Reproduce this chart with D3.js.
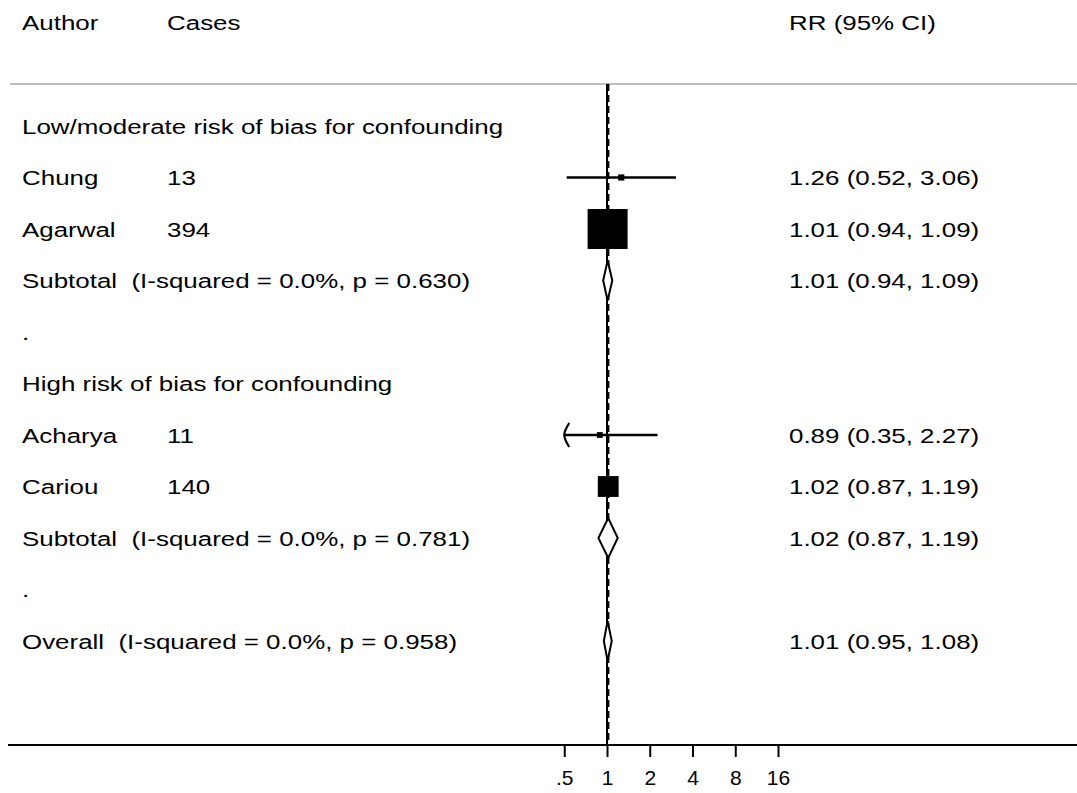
<!DOCTYPE html>
<html>
<head>
<meta charset="utf-8">
<script src="https://cdn.jsdelivr.net/npm/d3@7/dist/d3.min.js"></script>
<style>
  html, body { margin: 0; padding: 0; background: #fff; }
  svg { display: block; }
  text { font-family: "Liberation Sans", Arial, Helvetica, sans-serif; fill: #000; white-space: pre; }
</style>
</head>
<body>
<svg id="chart" width="1077" height="793"></svg>
<script>
// Forest plot rows, top to bottom
const rowLabels = [
  "Low/moderate risk of bias for confounding",
  "Chung",
  "Agarwal",
  "Subtotal  (I-squared = 0.0%, p = 0.630)",
  ".",
  "High risk of bias for confounding",
  "Acharya",
  "Cariou",
  "Subtotal  (I-squared = 0.0%, p = 0.781)",
  ".",
  "Overall  (I-squared = 0.0%, p = 0.958)"
];
const rowTypes = ["group", "study", "study", "pooled", "blank", "group", "study", "study", "pooled", "blank", "pooled"];
const cases    = ["", "13", "394", "", "", "", "11", "140", "", "", ""];
const rr       = [null, 1.26, 1.01, 1.01, null, null, 0.89, 1.02, 1.02, null, 1.01];
const ciLow    = [null, 0.52, 0.94, 0.94, null, null, 0.35, 0.87, 0.87, null, 0.95];
const ciHigh   = [null, 3.06, 1.09, 1.09, null, null, 2.27, 1.19, 1.19, null, 1.08];
const weights  = [null, 1.8, 76.0, null, null, null, 1.6, 20.6, null, null, null];

const tickValues = [0.5, 1, 2, 4, 8, 16];
const tickLabels = [".5", "1", "2", "4", "8", "16"];
const overallRR = rr[rr.length - 1];

const svg = d3.select("#chart");
const W = 1077;
const fontSize = 21;
const stretch = 1.235; // table text is drawn horizontally widened

const x = d3.scaleLog().domain([0.5, 16]).range([564.25, 778]);
const y = d3.scaleLinear().domain([0, rowLabels.length - 1]).range([126, 641]);
const boxSide = d3.scaleSqrt().domain([0, 76]).range([0, 40]);

const topY = 84, axisY = 745;
const fmt = d3.format(".2f");

function tableText(g, tx, ty, str) {
  g.append("text")
    .attr("transform", `translate(${tx},${ty}) scale(${stretch},1)`)
    .attr("font-size", fontSize)
    .text(str);
}

// Header row
const header = svg.append("g");
tableText(header, 22, 29.5, "Author");
tableText(header, 167, 29.5, "Cases");
tableText(header, 789, 29.5, "RR (95% CI)");

// Separator under header
svg.append("line")
  .attr("x1", 10).attr("x2", W).attr("y1", topY).attr("y2", topY)
  .attr("stroke", "#bdbdbd").attr("stroke-width", 2);

// Null line at RR = 1
svg.append("line")
  .attr("x1", x(1)).attr("x2", x(1)).attr("y1", topY).attr("y2", axisY)
  .attr("stroke", "#000").attr("stroke-width", 2);

// Overall estimate line (dashed)
svg.append("line")
  .attr("x1", x(overallRR) + 0.8).attr("x2", x(overallRR) + 0.8).attr("y1", topY).attr("y2", axisY)
  .attr("stroke", "#000").attr("stroke-width", 2).attr("stroke-dasharray", "7,4");

const rows = rowLabels.map((label, i) => ({
  label, type: rowTypes[i], cases: cases[i], rr: rr[i], lo: ciLow[i], hi: ciHigh[i], w: weights[i], i
}));

// Row labels
const labels = svg.append("g");
rows.forEach(d => {
  const ty = y(d.i) + 7.5;
  tableText(labels, 22, ty, d.label);
  if (d.cases) tableText(labels, 167, ty, d.cases);
  if (d.rr != null) tableText(labels, 789, ty, `${fmt(d.rr)} (${fmt(d.lo)}, ${fmt(d.hi)})`);
});

// Study estimates: CI lines and weighted boxes
const minX = x.domain()[0], maxX = x.domain()[1];
const studies = svg.append("g");
rows.filter(d => d.type === "study").forEach(d => {
  const cy = y(d.i);
  const lo = Math.max(d.lo, minX), hi = Math.min(d.hi, maxX);
  const s = boxSide(d.w);
  studies.append("rect")
    .attr("x", x(d.rr) - s / 2).attr("y", cy - s / 2)
    .attr("width", s).attr("height", s).attr("fill", "#000");
  studies.append("line")
    .attr("x1", x(lo)).attr("x2", x(hi)).attr("y1", cy).attr("y2", cy)
    .attr("stroke", "#000").attr("stroke-width", 2.6);
  if (d.lo < minX) {
    const ax = x(minX);
    studies.append("path")
      .attr("d", `M${ax + 5},${cy - 12} Q${ax},${cy - 4} ${ax},${cy} Q${ax},${cy + 4} ${ax + 5},${cy + 12}`)
      .attr("fill", "none").attr("stroke", "#000").attr("stroke-width", 2.2);
  }
});

// Pooled estimates: diamonds
const pooled = svg.append("g");
rows.filter(d => d.type === "pooled").forEach(d => {
  const cy = y(d.i), h = 20;
  pooled.append("path")
    .attr("d", `M${x(d.lo)},${cy} L${x(d.rr)},${cy - h} L${x(d.hi)},${cy} L${x(d.rr)},${cy + h} Z`)
    .attr("fill", "#fff").attr("stroke", "#000").attr("stroke-width", 2);
});

// Axis
svg.append("line")
  .attr("x1", 8).attr("x2", W).attr("y1", axisY).attr("y2", axisY)
  .attr("stroke", "#000").attr("stroke-width", 2);

const axis = d3.axisBottom(x)
  .tickValues(tickValues)
  .tickFormat((v, i) => tickLabels[i])
  .tickSize(12)
  .tickPadding(13);

const ag = svg.append("g").attr("transform", `translate(0,${axisY})`).call(axis);
ag.select(".domain").remove();
ag.selectAll(".tick line").attr("stroke", "#000").attr("stroke-width", 2);
ag.selectAll(".tick text")
  .attr("font-size", fontSize)
  .attr("font-family", "'Liberation Sans', Arial, Helvetica, sans-serif")
  .attr("fill", "#000");
</script>
</body>
</html>
